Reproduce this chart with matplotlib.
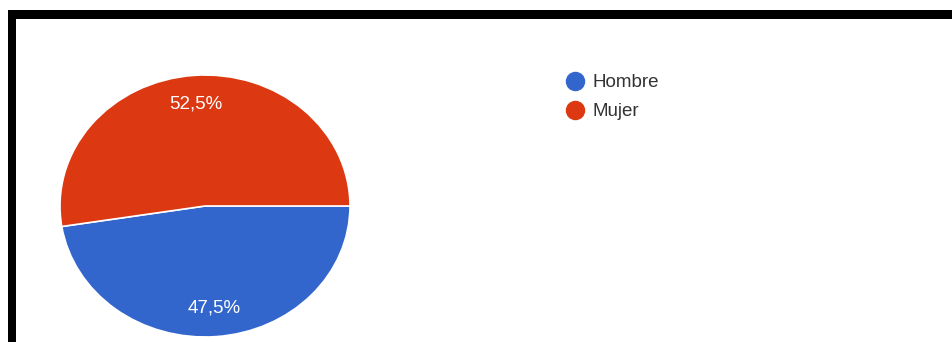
import matplotlib
matplotlib.use("Agg")
import matplotlib.pyplot as plt
from matplotlib.lines import Line2D
from matplotlib.patches import Rectangle

# Respuestas por sexo
categorias = ["Hombre", "Mujer"]
porcentajes = [47.5, 52.5]
colores = ["#3366cc", "#dc3912"]

W, H = 952, 342
fig = plt.figure(figsize=(W / 100, H / 100), dpi=100)
fig.patch.set_facecolor("white")

# pie area in pixels (left, top, right, bottom) - slightly flattened
px_l, px_t, px_r, px_b = 60, 75, 350, 337
ax = fig.add_axes([px_l / W, (H - px_b) / H, (px_r - px_l) / W, (px_b - px_t) / H])

def fmt(p):
    return f"{p:.1f}%".replace(".", ",")

wedges, texts, autotexts = ax.pie(
    porcentajes, colors=colores, startangle=0, counterclock=False,
    autopct=fmt, pctdistance=0.78, radius=1,
    wedgeprops=dict(edgecolor="white", linewidth=1.2),
    textprops=dict(color="white", fontsize=13.5, family="Liberation Sans"),
)
ax.set_aspect("auto")
ax.set_xlim(-1, 1)
ax.set_ylim(-1, 1)
ax.axis("off")

handles = [Line2D([], [], marker="o", linestyle="", markersize=13,
                  markerfacecolor=c, markeredgecolor=c) for c in colores]
fig.legend(handles, categorias, loc="upper left",
           bbox_to_anchor=(560 / W, 1 - 74 / H), frameon=False,
           prop=dict(family="Liberation Sans", size=13.5),
           labelcolor="#333333", handletextpad=0.15, handlelength=1.6,
           labelspacing=0.65, borderaxespad=0, borderpad=0)

# black frame along top and left edges
fig.add_artist(Rectangle((8 / W, 1 - 19 / H), 1 - 8 / W, 9 / H,
                         transform=fig.transFigure, facecolor="black", edgecolor="none"))
fig.add_artist(Rectangle((8 / W, 0), 8 / W, 1 - 10 / H,
                         transform=fig.transFigure, facecolor="black", edgecolor="none"))

fig.savefig("out.png", dpi=100)
